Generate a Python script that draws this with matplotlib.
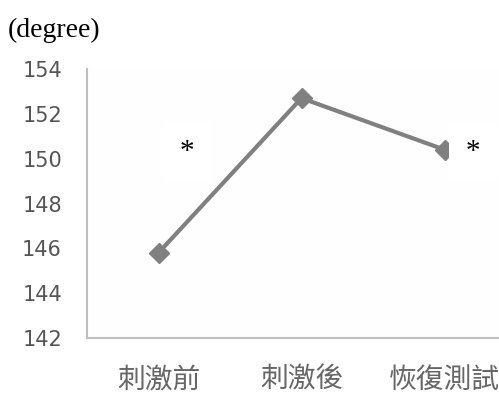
import matplotlib
matplotlib.use('Agg')
import matplotlib.pyplot as plt

# angle per stage
stages = ['刺激前', '刺激後', '恢復測試']
degree = [145.8, 152.7, 150.4]
yticks = [142, 144, 146, 148, 150, 152, 154]

W, H = 499, 394
fig = plt.figure(figsize=(W / 100, H / 100), dpi=100)
fig.patch.set_facecolor('white')

ax = fig.add_axes([87 / W, (H - 338) / H, (516 - 87) / W, (338 - 69) / H])
ax.set_facecolor('#fefefe')

ax.plot(range(len(stages)), degree, color='#808080', lw=3.0,
        marker='D', markersize=10, markerfacecolor='#808080',
        markeredgecolor='#808080', solid_capstyle='round')

ax.set_xlim(-0.5, 2.5)
ax.set_ylim(142, 154)
ax.set_yticks(yticks)
ax.set_yticklabels([str(t) for t in yticks], fontsize=15, color='#555555',
                   family='DejaVu Sans')
ax.set_xticks(range(len(stages)))
ax.set_xticklabels(stages, fontsize=20, color='#666666',
                   family=['Noto Sans CJK TC', 'DejaVu Sans'])
ax.tick_params(axis='y', length=0, pad=18)
ax.tick_params(axis='x', length=0, pad=19)

for side in ['top', 'right']:
    ax.spines[side].set_visible(False)
for side in ['left', 'bottom']:
    ax.spines[side].set_color('#bfbfbf')
    ax.spines[side].set_linewidth(1.5)

# significance marks
for x, y in [(0.2, 150.3), (2.2, 150.3)]:
    ax.text(x, y, '*', fontsize=21, family='Liberation Serif', color='black',
            ha='center', va='center',
            bbox=dict(facecolor='white', edgecolor='none', pad=12))

fig.text(8 / W, 1 - 30 / H, '(degree)', fontsize=20, family='Liberation Serif',
         color='black', ha='left', va='center')

fig.savefig('out.png', dpi=100)
